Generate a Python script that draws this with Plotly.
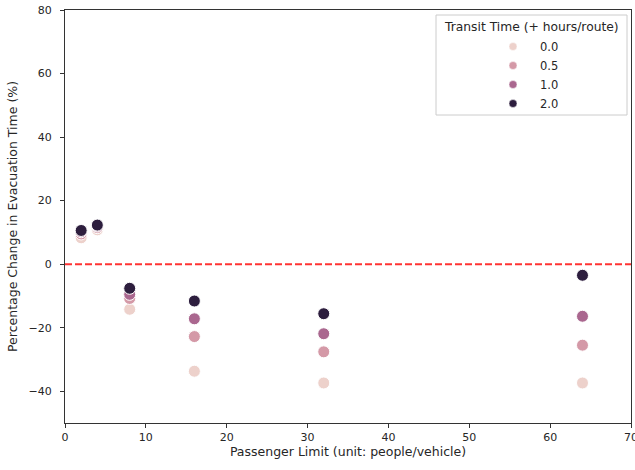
import plotly.graph_objects as go

# Data
passenger_limits = [2, 4, 8, 16, 32, 64]
transit_labels = ["0.0", "0.5", "1.0", "2.0"]
change_t00 = [8.3, 10.8, -14.2, -33.7, -37.4, -37.4]
change_t05 = [9.5, 11.5, -10.8, -22.8, -27.6, -25.5]
change_t10 = [10.2, 12.0, -9.5, -17.2, -21.9, -16.4]
change_t20 = [10.6, 12.3, -7.6, -11.6, -15.6, -3.5]
series = [change_t00, change_t05, change_t10, change_t20]
colors = ["#edd1cb", "#d499a7", "#aa678f", "#2d1e3e"]
baseline = 0
legend_title = "Transit Time (+ hours/route)"

x_ticks = [0, 10, 20, 30, 40, 50, 60, 70]
y_ticks = [-40, -20, 0, 20, 40, 60, 80]

FONT = "DejaVu Sans"
TXT = "#262626"

fig = go.Figure()
for lab, vals, col in zip(transit_labels, series, colors):
    fig.add_trace(go.Scatter(
        x=passenger_limits, y=vals, mode="markers", name=lab,
        showlegend=False,
        marker=dict(size=12, color=col, line=dict(color="white", width=1)),
    ))
# legend proxies (smaller markers, as in the reference legend)
for lab, col in zip(transit_labels, colors):
    fig.add_trace(go.Scatter(
        x=[None], y=[None], mode="markers", name=lab,
        marker=dict(size=8, color=col, line=dict(color="white", width=0.5)),
    ))

fig.add_hline(y=baseline, line=dict(color="rgba(255,0,0,0.8)", width=2, dash="7px,3px"))

axis_common = dict(
    showline=True, linecolor="#333333", linewidth=1, mirror=True,
    ticks="outside", ticklen=4, tickwidth=1, tickcolor="#333333",
    showgrid=False, zeroline=False, automargin=False,
    ticklabeloverflow="allow",
    tickfont=dict(family=FONT, size=11, color=TXT),
)

# legend frame + title (layout decoration, paper coordinates)
W, H = 635, 470
ML, MR, MT, MB = 65, 4, 10, 47
PW, PH = W - ML - MR, H - MT - MB
def px_x(p):
    return (p - ML) / PW
def px_y(p):
    return 1 - (p - MT) / PH

fig.add_shape(type="rect", xref="paper", yref="paper",
              x0=px_x(436), x1=px_x(627), y0=px_y(115), y1=px_y(15),
              line=dict(color="#cccccc", width=1), fillcolor="white", layer="below")
fig.add_annotation(text=legend_title, xref="paper", yref="paper",
                   x=px_x(531.5), y=px_y(27), xanchor="center", yanchor="middle",
                   showarrow=False, font=dict(family=FONT, size=12.3, color=TXT))

fig.update_layout(
    width=W, height=H,
    margin=dict(l=ML, r=MR, t=MT, b=MB),
    plot_bgcolor="white", paper_bgcolor="white",
    font=dict(family=FONT, size=11, color=TXT),
    xaxis=dict(range=[0, 70], tickvals=x_ticks,
               title=dict(text="Passenger Limit (unit: people/vehicle)",
                          font=dict(family=FONT, size=12.5, color=TXT), standoff=4),
               **axis_common),
    yaxis=dict(range=[-50, 80], tickvals=y_ticks, ticklabelstandoff=6,
               title=dict(text="Percentage Change in Evacuation Time (%)",
                          font=dict(family=FONT, size=12.5, color=TXT), standoff=8),
               **axis_common),
    showlegend=True,
    legend=dict(
        x=px_x(486), y=px_y(32), xanchor="left", yanchor="top",
        bgcolor="rgba(0,0,0,0)", borderwidth=0,
        font=dict(family=FONT, size=11.5, color=TXT),
        tracegroupgap=0, itemwidth=44,
    ),
)

fig.write_html("out.html", post_script="document.body.style.margin='0';",
               config={"displayModeBar": False})
